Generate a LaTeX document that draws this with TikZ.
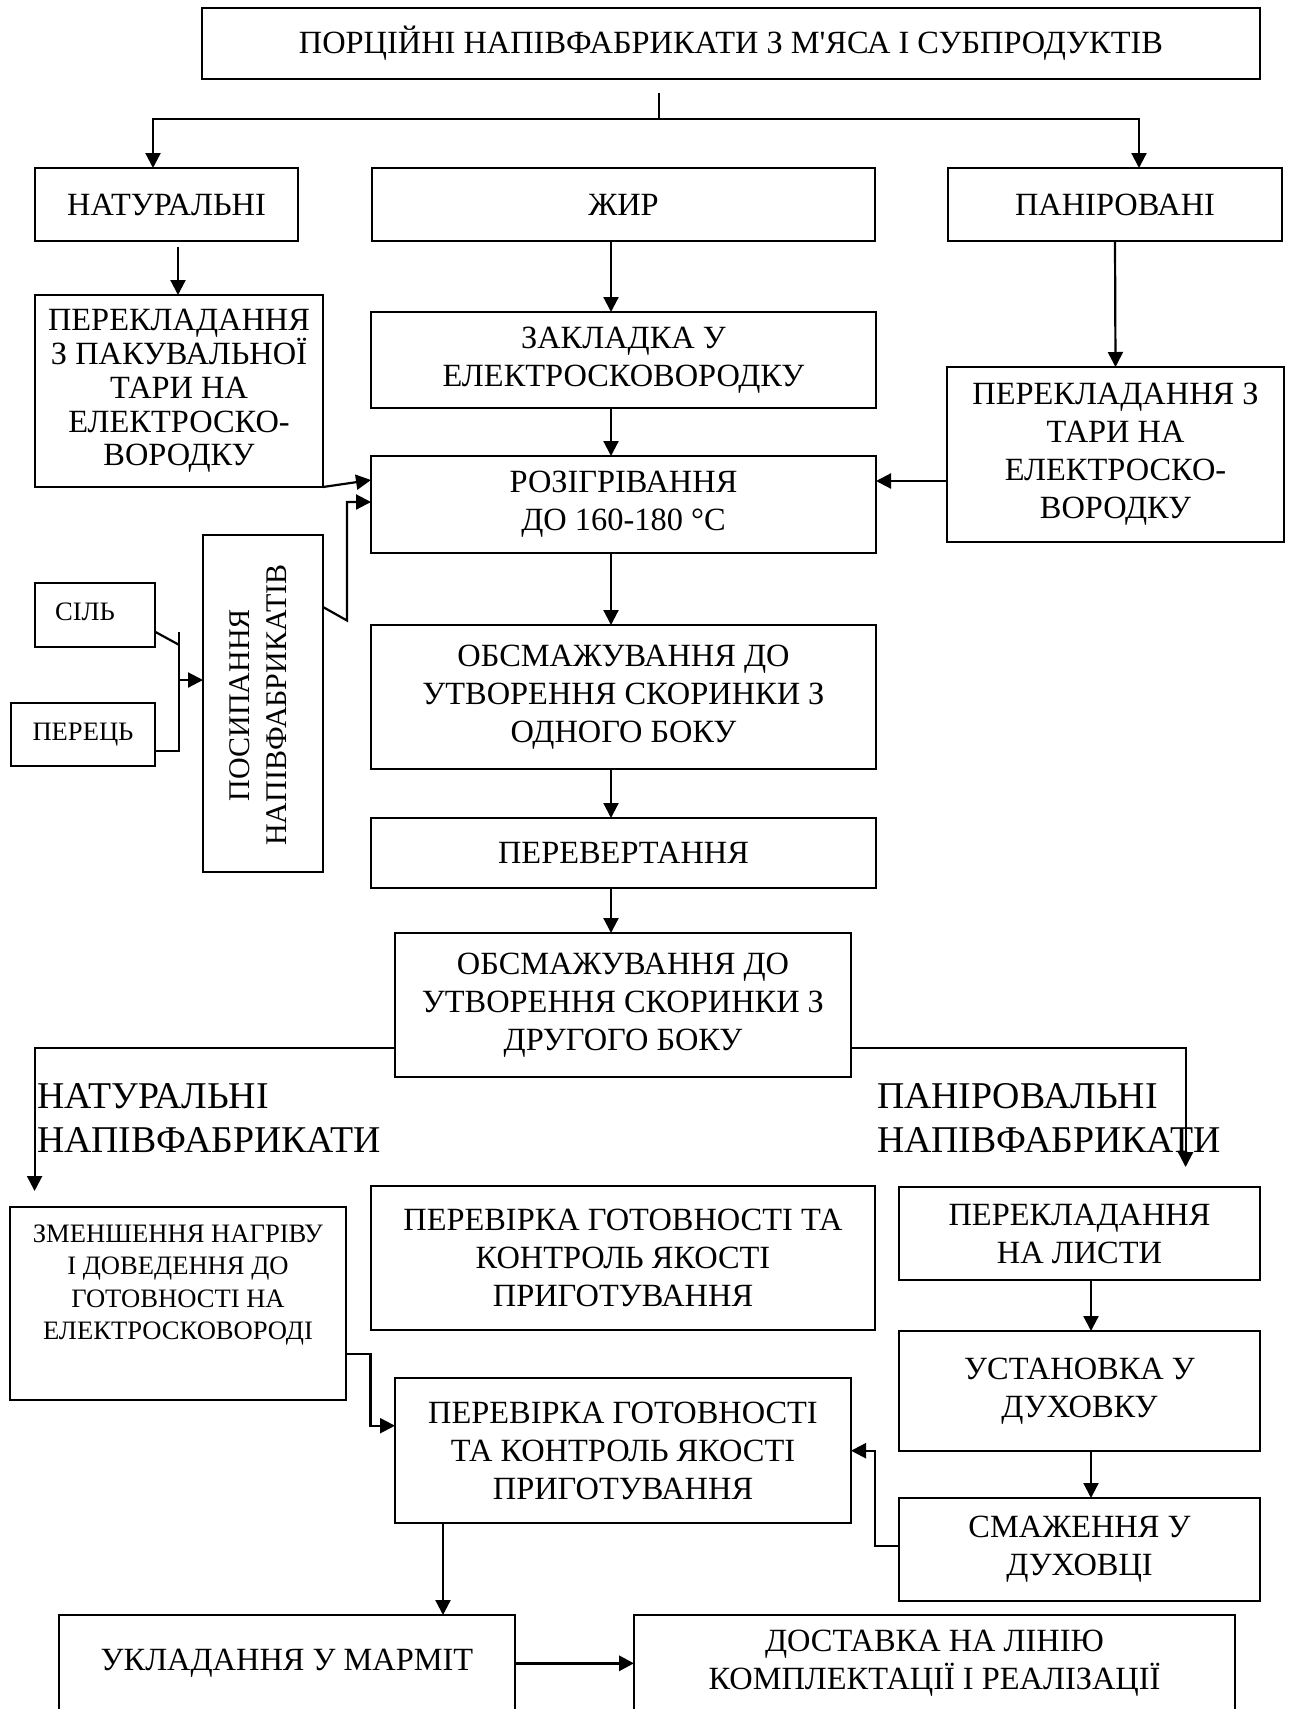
\documentclass[tikz,border=0pt]{standalone}
\usepackage{fontspec}
\setmainfont{Liberation Serif}
\newfontfamily\aposf{Liberation Serif}[Ligatures=TeXOff]
\usetikzlibrary{arrows.meta,calc}
\newcommand\mainf{\fontsize{16.2}{19}\selectfont}
\newcommand\tightf{\fontsize{16.2}{16.9}\selectfont}
\newcommand\smallf{\fontsize{13.3}{16.2}\selectfont}
\newcommand\bigf{\fontsize{18.9}{21.75}\selectfont}
\newcommand\rotf{\fontsize{15}{18.3}\selectfont}
\tikzset{
  box/.style={draw, line width=1.1pt, inner sep=0pt, outer sep=0pt, align=center, font=\mainf},
  arr/.style={-{Triangle[length=7.5pt,width=7.5pt]}, line width=1.1pt},
  ln/.style={line width=1.1pt},
  lbl/.style={inner sep=0pt, outer sep=0pt}
}
\newcommand\bx[7][]{\node[box,#1,minimum width={(#5-#3)*0.5pt},minimum height={(#6-#4)*0.5pt}] (#2) at ({(#3+#5)/2},{(#4+#6)/2}) {#7};}
\begin{document}
\begin{tikzpicture}[x=0.5pt,y=-0.5pt]
\useasboundingbox (0,0) rectangle (1291,1709);
% boxes
\bx{top}{202}{8}{1260}{79}{ПОРЦІЙНІ НАПІВФАБРИКАТИ З М{\aposf'}ЯСА І СУБПРОДУКТІВ}
\bx{nat}{35}{168}{298}{241}{НАТУРАЛЬНІ}
\bx{zhyr}{372}{168}{875}{241}{ЖИР}
\bx{pan}{948}{168}{1282}{241}{ПАНІРОВАНІ}
\bx[font=\tightf]{perL}{35}{295}{323}{487}{ПЕРЕКЛАДАННЯ\\З ПАКУВАЛЬНОЇ\\ТАРИ НА\\ЕЛЕКТРОСКО-\\ВОРОДКУ}
\bx{zakl}{371}{312}{876}{408}{ЗАКЛАДКА У\\ЕЛЕКТРОСКОВОРОДКУ}
\bx{perR}{947}{367}{1284}{542}{ПЕРЕКЛАДАННЯ З\\ТАРИ НА\\ЕЛЕКТРОСКО-\\ВОРОДКУ}
\bx{roz}{371}{456}{876}{553}{РОЗІГРІВАННЯ\\ДО 160-180 °C}
\bx{pos}{203}{535}{323}{872}{}
\node[lbl, rotate=90, align=center, font=\rotf] (posT) at (258,705) {ПОСИПАННЯ\\НАПІВФАБРИКАТІВ};
\bx{sil}{35}{583}{155}{647}{}
\node[lbl, font=\smallf] (silT) at (85,612) {СІЛЬ};
\bx[font=\smallf]{per}{11}{703}{155}{766}{ПЕРЕЦЬ}
\bx{obs1}{371}{625}{876}{769}{ОБСМАЖУВАННЯ ДО\\УТВОРЕННЯ СКОРИНКИ З\\ОДНОГО БОКУ}
\bx{perev}{371}{818}{876}{888}{ПЕРЕВЕРТАННЯ}
\bx{obs2}{395}{933}{851}{1077}{ОБСМАЖУВАННЯ ДО\\УТВОРЕННЯ СКОРИНКИ З\\ДРУГОГО БОКУ}
\bx{zm}{10}{1207}{346}{1400}{}
\node[lbl, align=center, font=\smallf] (zmT) at (178,1285) {ЗМЕНШЕННЯ НАГРІВУ\\І ДОВЕДЕННЯ ДО\\ГОТОВНОСТІ НА\\ЕЛЕКТРОСКОВОРОДІ};
\bx{chk1}{371}{1186}{875}{1330}{ПЕРЕВІРКА ГОТОВНОСТІ ТА\\КОНТРОЛЬ ЯКОСТІ\\ПРИГОТУВАННЯ}
\bx{lysty}{899}{1187}{1260}{1280}{ПЕРЕКЛАДАННЯ\\НА ЛИСТИ}
\bx{ust}{899}{1331}{1260}{1451}{УСТАНОВКА У\\ДУХОВКУ}
\bx{smaz}{899}{1498}{1260}{1601}{СМАЖЕННЯ У\\ДУХОВЦІ}
\bx{chk2}{395}{1378}{851}{1523}{ПЕРЕВІРКА ГОТОВНОСТІ\\ТА КОНТРОЛЬ ЯКОСТІ\\ПРИГОТУВАННЯ}
\bx{ukl}{59}{1615}{515}{1711}{УКЛАДАННЯ У МАРМІТ}
\bx{dost}{634}{1615}{1235}{1711}{ДОСТАВКА НА ЛІНІЮ\\КОМПЛЕКТАЦІЇ І РЕАЛІЗАЦІЇ}
% big labels
\node[lbl, anchor=west, align=left, font=\bigf] (lbN) at (37,1118) {НАТУРАЛЬНІ\\НАПІВФАБРИКАТИ};
\node[lbl, anchor=west, align=left, font=\bigf] (lbP) at (877,1118) {ПАНІРОВАЛЬНІ\\НАПІВФАБРИКАТИ};
% connectors
\coordinate (s1) at (659,93);
\coordinate (j1) at (659,119);
\coordinate (jl) at (153,119);
\coordinate (jr) at (1139,119);
\draw[ln] (s1) -- (j1);
\draw[arr] (j1) -- (jl) -- (jl |- nat.north);
\draw[arr] (j1) -- (jr) -- (jr |- pan.north);
\coordinate (a1) at (178,247);
\draw[arr] (a1) -- (a1 |- perL.north);
\coordinate (xm) at (611,0);
\draw[arr] (xm |- zhyr.south) -- (xm |- zakl.north);
\draw[arr] (xm |- zakl.south) -- (xm |- roz.north);
\draw[arr] (xm |- roz.south) -- (xm |- obs1.north);
\draw[arr] (xm |- obs1.south) -- (xm |- perev.north);
\draw[arr] (xm |- perev.south) -- (xm |- obs2.north);
\draw[arr] (pan.south) -- (perR.north);
\coordinate (y481) at (0,481);
\draw[arr] (perR.west |- y481) -- (roz.east |- y481);
\coordinate (y480) at (0,480);
\draw[arr] (perL.south east) -- (roz.west |- y480);
\coordinate (p1) at (0,607);
\coordinate (k1) at (347,620.5);
\coordinate (k2) at (347,502);
\draw[arr] (pos.east |- p1) -- (k1) -- (k2) -- (k2 -| roz.west);
\coordinate (b1) at (179.3,631.7);
\coordinate (b2) at (179.3,645);
\coordinate (b3) at (179.3,750.7);
\coordinate (b4) at (179.3,680);
\draw[ln] (sil.east |- b1) -- (b2);
\draw[ln] (b1) -- (b3) -- (b3 -| per.east);
\draw[arr] (b4) -- (b4 -| pos.west);
\coordinate (l1) at (34.6,1048);
\coordinate (l2) at (34.6,1191);
\draw[arr] (obs2.west |- l1) -- (l1) -- (l2);
\coordinate (r1) at (1185.6,1048);
\coordinate (r2) at (1185.6,1167);
\draw[arr] (obs2.east |- r1) -- (r1) -- (r2);
\coordinate (xr) at (1091,0);
\draw[arr] (xr |- lysty.south) -- (xr |- ust.north);
\draw[arr] (xr |- ust.south) -- (xr |- smaz.north);
\coordinate (m1) at (370.5,1354.3);
\coordinate (m2) at (370.5,1425.7);
\draw[arr] (zm.east |- m1) -- (m1) -- (m2) -- (m2 -| chk2.west);
\coordinate (n1) at (875.2,1546);
\coordinate (n2) at (875.2,1450.7);
\draw[arr] (smaz.west |- n1) -- (n1) -- (n2) -- (n2 -| chk2.east);
\coordinate (xb) at (443,0);
\draw[arr] (xb |- chk2.south) -- (xb |- ukl.north);
\coordinate (yb) at (0,1663.3);
\draw[arr, line width=1.6pt] (ukl.east |- yb) -- (dost.west |- yb);
\end{tikzpicture}
\end{document}
